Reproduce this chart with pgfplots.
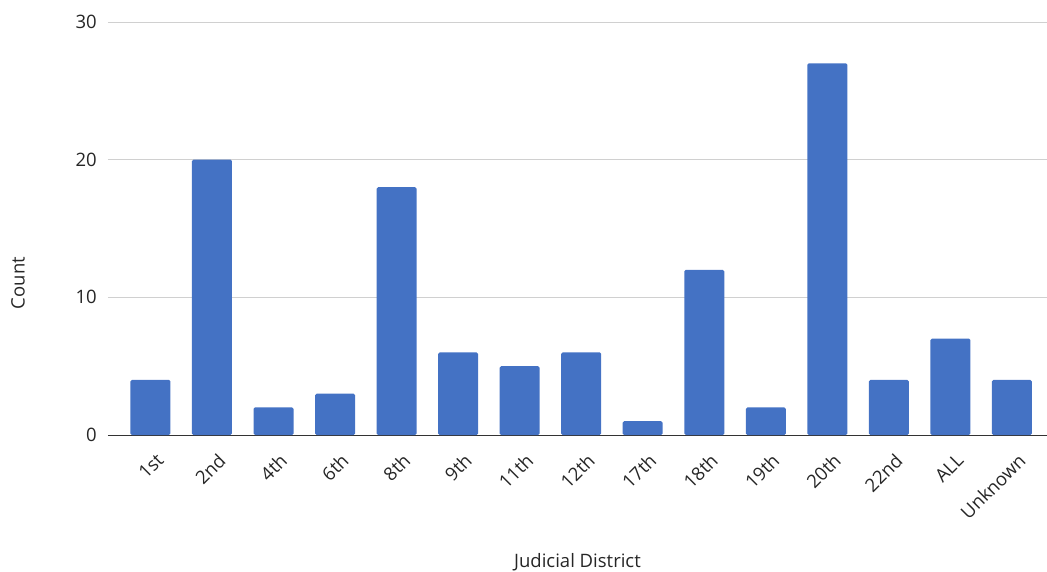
\documentclass[border=0pt]{standalone}
\usepackage{pgfplots}
\pgfplotsset{compat=1.18}
\usepackage{fontspec}
\setmainfont{Open Sans}
\usetikzlibrary{calc}
\definecolor{barblue}{HTML}{4472C4}
\definecolor{gridgray}{HTML}{D0D0D0}
\begin{document}
\begin{tikzpicture}
\fontsize{18.5bp}{22bp}\selectfont
\begin{axis}[
    scale only axis,
    width=939bp, height=413bp,
    xmin=-0.69, xmax=14.57,
    ymin=0, ymax=30,
    ytick={0,10,20,30},
    xtick=data,
    xticklabels={1st,2nd,4th,6th,8th,9th,11th,12th,17th,18th,19th,20th,22nd,ALL,Unknown},
    axis line style={draw=none},
    axis x line*=bottom,
    x axis line style={draw=black!80, line width=1pt},
    major tick length=0pt,
    ymajorgrids=true,
    grid style={gridgray, line width=0.9pt},
    yticklabel style={anchor=east, inner sep=0pt, xshift=-11bp, text=black!85},
    xticklabel style={xshift=5bp, yshift=-17bp, rotate=45, anchor=north east, inner sep=0pt, text=black!85},
    ylabel={Count},
    xlabel={Judicial District},
    ylabel style={at={(axis description cs:-0.0958,0.368)}, anchor=center, text=black!85},
    xlabel style={at={(axis description cs:0.5,-0.3075)}, anchor=center, text=black!85},
    /pgf/number format/assume math mode=true,
]
\addplot[ybar, bar width=0.65, fill=barblue, draw=none, rounded corners=1.5bp]
    coordinates {
    (0,4)(1,20)(2,2)(3,3)(4,18)(5,6)(6,5)(7,6)(8,1)(9,12)(10,2)(11,27)(12,4)(13,7)(14,4)
    };
\end{axis}
\pgfresetboundingbox
\path ($(current axis.south west)+(-108bp,-137bp)$) rectangle ($(current axis.north east)+(0bp,22bp)$);
\end{tikzpicture}
\end{document}
